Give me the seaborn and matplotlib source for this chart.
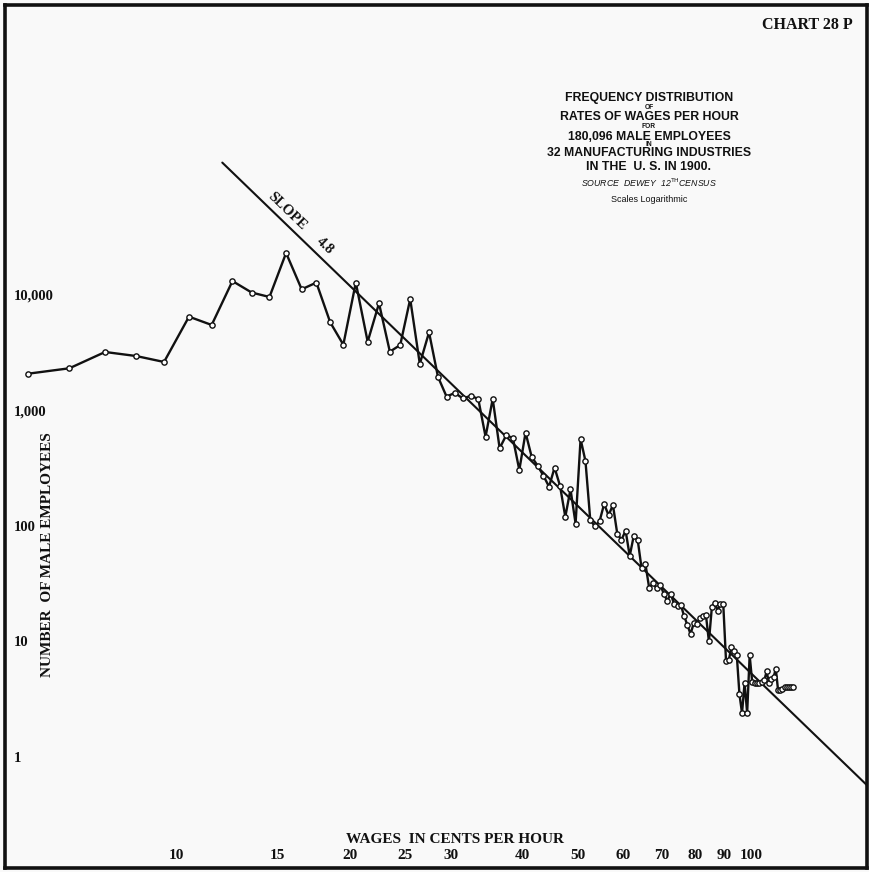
import numpy as np
import pandas as pd
import seaborn as sns
import matplotlib.pyplot as plt

# wage classes (cents per hour, mid points of 1 cent classes)
wage = [5.5, 6.5, 7.5, 8.5, 9.5, 10.5, 11.5, 12.5, 13.5, 14.5,
        15.5, 16.5, 17.5, 18.5, 19.5, 20.5, 21.5, 22.5, 23.5, 24.5,
        25.5, 26.5, 27.5, 28.5, 29.5, 30.5, 31.5, 32.5, 33.5, 34.5,
        35.5, 36.5, 37.5, 38.5, 39.5, 40.5, 41.5, 42.5, 43.5, 44.5,
        45.5, 46.5, 47.5, 48.5, 49.5, 50.5, 51.5, 52.5, 53.5, 54.5,
        55.5, 56.5, 57.5, 58.5, 59.5, 60.5, 61.5, 62.5, 63.5, 64.5,
        65.5, 66.5, 67.5, 68.5, 69.5, 70.5, 71.5, 72.5, 73.5, 74.5,
        75.5, 76.5, 77.5, 78.5, 79.5, 80.5, 81.5, 82.5, 83.5, 84.5,
        85.5, 86.5, 87.5, 88.5, 89.5, 90.5, 91.5, 92.5, 93.5, 94.5,
        95.5, 96.5, 97.5, 98.5, 99.5, 100.5, 101.5, 102.5, 103.5, 104.5,
        105.5, 106.5, 107.5, 108.5, 109.5, 110.5, 111.5, 112.5, 113.5, 114.5,
        115.5, 116.5, 117.5, 118.5]

# number of male employees in each class
employees = [2080, 2320, 3210, 2960, 2630, 6490, 5500, 13200, 10500, 9610,
             23100, 11200, 12800, 5800, 3710, 12800, 3940, 8470, 3230, 3690,
             9230, 2530, 4750, 1960, 1320, 1420, 1270, 1340, 1260, 593,
             1260, 471, 614, 574, 305, 643, 398, 333, 273, 219,
             320, 223, 120, 208, 105, 566, 365, 113, 99, 110,
             155, 124, 152, 86, 76, 91, 55, 82, 76, 43,
             47, 29, 32, 29, 31, 26, 22.5, 26, 21, 20.3,
             20.7, 16.6, 13.9, 11.6, 14.4, 14.2, 15.9, 16.5, 16.9, 10,
             19.8, 21.7, 18.5, 21.1, 21.1, 6.8, 6.9, 8.9, 8.2, 7.6,
             3.5, 2.4, 4.4, 2.4, 7.6, 4.5, 4.4, 4.4, 4.4, 4.5,
             4.6, 5.5, 4.4, 4.7, 4.9, 5.8, 3.8, 3.8, 3.9, 4.0,
             4.0, 4.0, 4.0, 4.0]

# fitted line: slope 4.8 on the log-log scale
slope = 4.8
line_wage = [12.0, 175.0]
line_start = 140000

x_ticks = [10, 15, 20, 25, 30, 40, 50, 60, 70, 80, 90, 100]
y_ticks = [1, 10, 100, 1000, 10000]
y_tick_labels = ['1', '10', '100', '1,000', '10,000']

df = pd.DataFrame({'wage': wage, 'employees': employees})
df_line = pd.DataFrame({'wage': line_wage,
                        'employees': [line_start * (w / line_wage[0]) ** (-slope) for w in line_wage]})

sns.set_style('white')
plt.rcParams['font.family'] = ['Liberation Serif', 'DejaVu Serif']

bg = '#f9f9f9'
ink = '#111111'
fig = plt.figure(figsize=(8.7, 8.72), dpi=100, facecolor=bg)
ax = fig.add_axes([5 / 870, 4 / 872, 862 / 870, 863 / 872])
ax.set_facecolor(bg)

sns.lineplot(data=df_line, x='wage', y='employees', ax=ax, color=ink,
             linewidth=1.5, sort=False)
sns.lineplot(data=df, x='wage', y='employees', ax=ax, color=ink,
             linewidth=1.7, marker='o', markersize=3.8, markerfacecolor='white',
             markeredgecolor=ink, markeredgewidth=1.0, sort=False)

ax.set_xscale('log')
ax.set_yscale('log')
ax.set_xlim(5.02, 159.3)
ax.set_ylim(0.1094, 3.24e6)
ax.minorticks_off()

ax.set_xticks(x_ticks)
ax.set_xticklabels([str(t) for t in x_ticks])
ax.set_yticks(y_ticks)
ax.set_yticklabels(y_tick_labels)
ax.tick_params(axis='x', direction='in', length=6, width=1.4, pad=-13.5,
               labelsize=11, colors=ink)
ax.tick_params(axis='y', direction='in', length=5, width=1.4, pad=-6,
               labelsize=10.5, colors=ink)
for lab in ax.get_xticklabels() + ax.get_yticklabels():
    lab.set_fontweight('bold')
for lab in ax.get_yticklabels():
    lab.set_horizontalalignment('left')
ax.set_xlabel('')
ax.set_ylabel('')

for s in ax.spines.values():
    s.set_linewidth(2.6)
    s.set_color(ink)

# axis titles inside the frame
fig.text(455 / 870, 1 - 839 / 872, 'WAGES  IN CENTS PER HOUR', ha='center', va='center',
         fontsize=11, fontweight='bold', color=ink)
fig.text(48 / 870, 1 - 555 / 872, 'NUMBER  OF MALE EMPLOYEES', ha='center', va='center',
         rotation=90, fontsize=11, fontweight='bold', color=ink)
fig.text(853 / 870, 1 - 25 / 872, 'CHART 28 P', ha='right', va='center',
         fontsize=11.5, fontweight='bold', color=ink)

# title block
sans = ['Liberation Sans', 'DejaVu Sans']
title_lines = [
    ('FREQUENCY DISTRIBUTION', 98, 8.8, 'bold', 'normal'),
    ('OF', 107.5, 4.8, 'bold', 'normal'),
    ('RATES OF WAGES PER HOUR', 117, 8.8, 'bold', 'normal'),
    ('FOR', 126, 4.8, 'bold', 'normal'),
    ('180,096 MALE EMPLOYEES', 136.5, 8.8, 'bold', 'normal'),
    ('IN', 144.5, 4.8, 'bold', 'normal'),
    ('32 MANUFACTURING INDUSTRIES', 153, 8.8, 'bold', 'normal'),
    ('IN THE  U. S. IN 1900.', 166.5, 8.8, 'bold', 'normal'),
    (r'SOURCE  DEWEY  12$^{\mathrm{TH}}$CENSUS', 183, 6.3, 'normal', 'italic'),
    ('Scales Logarithmic', 199, 6.5, 'normal', 'normal'),
]
for txt, py, size, weight, style in title_lines:
    fig.text(649 / 870, 1 - py / 872, txt, ha='center', va='center', fontsize=size,
             fontweight=weight, style=style, family=sans, color=ink)

# slope label along the line
p1 = ax.transData.transform((df_line['wage'][0], df_line['employees'][0]))
p2 = ax.transData.transform((df_line['wage'][1], df_line['employees'][1]))
angle = np.degrees(np.arctan2(p2[1] - p1[1], p2[0] - p1[0]))
fig.text(287 / 870, 1 - 211 / 872, 'SLOPE', rotation=angle, ha='center', va='center',
         fontsize=10.5, fontweight='bold', color=ink, rotation_mode='anchor')
fig.text(325 / 870, 1 - 246 / 872, '4.8', rotation=angle, ha='center', va='center',
         fontsize=10.5, fontweight='bold', color=ink, rotation_mode='anchor')

fig.savefig('out.png', dpi=100, facecolor=bg)
